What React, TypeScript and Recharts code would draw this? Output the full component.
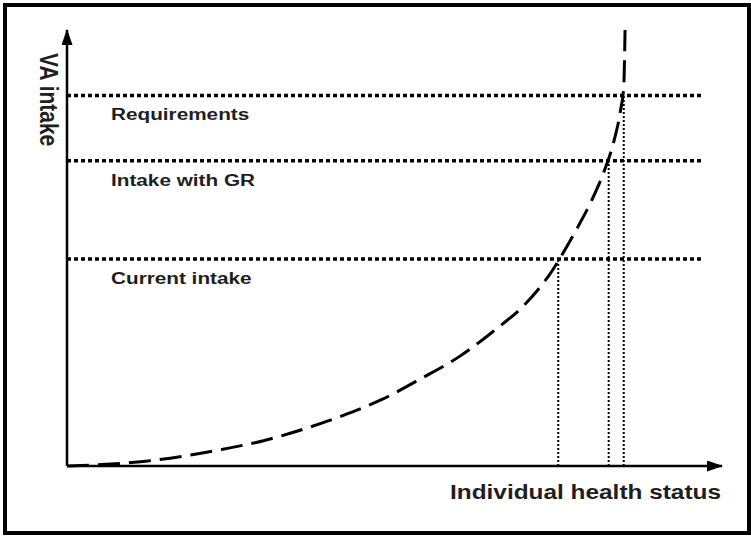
import React from "react";
import { LineChart, Line, XAxis, YAxis, ReferenceLine } from "recharts";

// curve (x = health status, y = VA intake, both 0..100)
const healthStatus = [0, 6, 12, 18, 24, 30, 36, 42, 48, 54, 60, 65, 70, 72, 74, 75, 77.5, 80, 82, 83.5, 84.5, 85, 85.2];
const vaIntake = [0, 0.4, 1.1, 2.3, 3.9, 5.8, 8.4, 11.5, 15.2, 20.0, 25.2, 30.8, 37.2, 40.6, 44.6, 47.0, 53.5, 60.6, 67.6, 74.5, 81.5, 87, 100];

const levelNames = ["Requirements", "Intake with GR", "Current intake"];
const levelValues = [85, 70, 47.5];
const levelCross = [85, 82.7, 75];
const levelEnd = 97;

const xTitle = "Individual health status";
const yTitle = "VA intake";

const curve = healthStatus.map((x, i) => ({ x, y: vaIntake[i] }));

const FONT = "'Liberation Sans', Arial, sans-serif";
const STRETCH = 1.22;

function LevelLabel(props: any) {
  const { viewBox, text } = props;
  const x = viewBox.x + 44;
  const y = viewBox.y + 25;
  return (
    <text
      transform={`translate(${x},${y}) scale(${STRETCH},1)`}
      fontFamily={FONT}
      fontWeight="bold"
      fontSize={17}
      fill="#1e1e1e"
    >
      {text}
    </text>
  );
}

function XTitle(props: any) {
  const { viewBox } = props;
  const x = viewBox.x + viewBox.width - 1;
  const y = viewBox.y + 33;
  return (
    <text
      transform={`translate(${x},${y}) scale(${STRETCH},1)`}
      textAnchor="end"
      fontFamily={FONT}
      fontWeight="bold"
      fontSize={20}
      fill="#1e1e1e"
    >
      {xTitle}
    </text>
  );
}

function YTitle(props: any) {
  const { viewBox } = props;
  const x = viewBox.x - 27;
  const y = viewBox.y + 23;
  return (
    <text
      transform={`translate(${x},${y}) rotate(90) scale(1,${STRETCH})`}
      fontFamily={FONT}
      fontWeight="bold"
      fontSize={21}
      fill="#1e1e1e"
    >
      {yTitle}
    </text>
  );
}

export default function App() {
  return (
    <div style={{ position: "absolute", left: 0, top: 0, width: 751, height: 539, background: "#fff" }}>
      <svg width={0} height={0} style={{ position: "absolute" }}>
        <defs>
          <marker
            id="arrowHead"
            markerWidth={16}
            markerHeight={11}
            refX={15}
            refY={5.5}
            orient="auto"
            markerUnits="userSpaceOnUse"
          >
            <path d="M0,0 L16,5.5 L0,11 Z" fill="#000" />
          </marker>
        </defs>
      </svg>
      <div
        style={{
          position: "absolute",
          left: 3,
          top: 3,
          width: 748,
          height: 532,
          border: "4px solid #000",
          boxSizing: "border-box",
        }}
      />
      <div style={{ position: "absolute", left: 0, top: 0 }}>
        <LineChart
          width={751}
          height={539}
          data={curve}
          margin={{ top: 30, right: 29, bottom: 73, left: 67 }}
        >
          <XAxis dataKey="x" type="number" domain={[0, 100]} hide />
          <YAxis type="number" domain={[0, 100]} hide />
          {levelValues.map((v, i) => (
            <ReferenceLine
              key={"h" + i}
              segment={[{ x: 0, y: v }, { x: levelEnd, y: v }]}
              stroke="#000"
              strokeWidth={3.5}
              strokeDasharray="4 3"
              label={(p: any) => <LevelLabel {...p} text={levelNames[i]} />}
            />
          ))}
          {levelValues.map((v, i) => (
            <ReferenceLine
              key={"v" + i}
              segment={[{ x: levelCross[i], y: 0 }, { x: levelCross[i], y: v }]}
              stroke="#000"
              strokeWidth={2}
              strokeDasharray="2 2"
            />
          ))}
          <Line
            type="monotone"
            dataKey="y"
            stroke="#000"
            strokeWidth={3}
            strokeDasharray="22 9"
            dot={false}
            activeDot={false}
            isAnimationActive={false}
          />
          {/* axes drawn as arrows */}
          <ReferenceLine
            segment={[{ x: 0, y: 0 }, { x: 100, y: 0 }]}
            stroke="#000"
            strokeWidth={2.5}
            markerEnd="url(#arrowHead)"
            ifOverflow="visible"
            label={(p: any) => <XTitle {...p} />}
          />
          <ReferenceLine
            segment={[{ x: 0, y: 0 }, { x: 0, y: 100 }]}
            stroke="#000"
            strokeWidth={2.5}
            markerEnd="url(#arrowHead)"
            ifOverflow="visible"
            label={(p: any) => <YTitle {...p} />}
          />
        </LineChart>
      </div>
    </div>
  );
}
